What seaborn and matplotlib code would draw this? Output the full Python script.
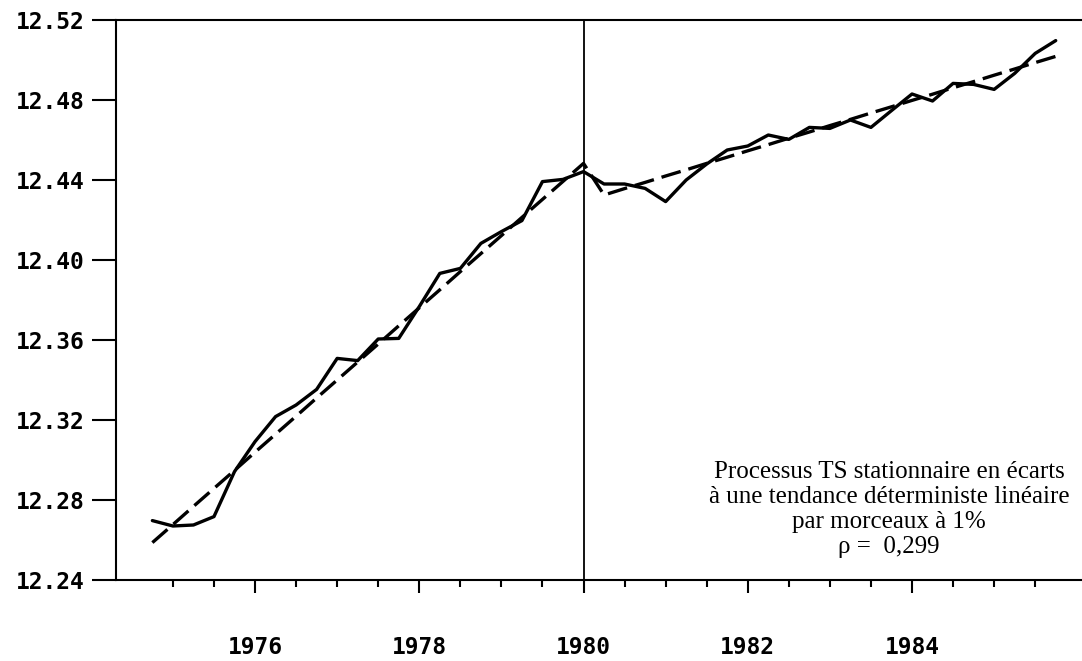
import matplotlib
matplotlib.use("Agg")
import matplotlib.pyplot as plt
import numpy as np
import pandas as pd
import seaborn as sns
from matplotlib.ticker import FixedLocator, FormatStrFormatter

# ---- data (quarterly, 1974Q4 .. 1985Q4) ----
quarters = pd.period_range("1974Q4", "1985Q4", freq="Q")
observed = [12.2697, 12.2670, 12.2675, 12.2717, 12.2942, 12.3092, 12.3217, 12.3275,
            12.3353, 12.3508, 12.3497, 12.3605, 12.3608, 12.3767, 12.3933, 12.3958,
            12.4083, 12.4142, 12.4197, 12.4392, 12.4403, 12.4442,
            12.4380, 12.4380, 12.4358, 12.4292, 12.4400, 12.4480, 12.4550, 12.4570,
            12.4625, 12.4603, 12.4663, 12.4658, 12.4700, 12.4663, 12.4747, 12.4830,
            12.4795, 12.4883, 12.4878, 12.4853, 12.4933, 12.5033, 12.5097]
trend = [12.2587, 12.2677, 12.2768, 12.2858, 12.2948, 12.3039, 12.3129, 12.3219,
         12.3310, 12.3400, 12.3490, 12.3580, 12.3671, 12.3761, 12.3851, 12.3942,
         12.4032, 12.4122, 12.4213, 12.4303, 12.4393, 12.4483,
         12.4325, 12.4357, 12.4388, 12.4420, 12.4451, 12.4483, 12.4514, 12.4546,
         12.4577, 12.4609, 12.4640, 12.4672, 12.4703, 12.4735, 12.4766, 12.4798,
         12.4829, 12.4861, 12.4892, 12.4924, 12.4955, 12.4987, 12.5018]
break_year = 1980
y_ticks = [12.24, 12.28, 12.32, 12.36, 12.40, 12.44, 12.48, 12.52]
x_major = [1976, 1978, 1980, 1982, 1984]
x_minor = [1975, 1975.5, 1976.5, 1977, 1977.5, 1978.5, 1979, 1979.5, 1980.5, 1981,
           1981.5, 1982.5, 1983, 1983.5, 1984.5, 1985, 1985.5]
annotation = "Processus TS stationnaire en écarts\nà une tendance déterministe linéaire\npar morceaux à 1%\nρ =  0,299"

years = np.array([q.year + (q.quarter - 1) / 4.0 for q in quarters])
df = pd.DataFrame({"year": years, "observed": observed, "trend": trend})

sns.set_style("ticks")
plt.rcParams["font.family"] = ["DejaVu Sans Mono", "DejaVu Sans"]

fig = plt.figure(figsize=(10.82, 6.61), dpi=100)
ax = fig.add_axes([116 / 1082, 1 - 580 / 661, (1082 - 116) / 1082, 560 / 661])

sns.lineplot(data=df, x="year", y="observed", ax=ax, color="black", linewidth=2.4)
sns.lineplot(data=df, x="year", y="trend", ax=ax, color="black", linewidth=2.4)
ax.lines[1].set_dashes((6.0, 2.4))
ax.axvline(break_year, color="black", linewidth=1.3)

ax.set_xlim(1974.307, 1986.07)
ax.set_ylim(12.24, 12.52)
ax.set_xlabel("")
ax.set_ylabel("")

ax.yaxis.set_major_locator(FixedLocator(y_ticks))
ax.yaxis.set_major_formatter(FormatStrFormatter("%.2f"))
ax.xaxis.set_major_locator(FixedLocator(x_major))
ax.xaxis.set_minor_locator(FixedLocator(x_minor))
ax.xaxis.set_major_formatter(FormatStrFormatter("%d"))

ax.tick_params(axis="y", which="major", direction="out", length=17, width=1.5,
               pad=5.5, labelsize=16.5, color="black", labelcolor="black")
ax.tick_params(axis="x", which="major", direction="out", length=9.5, width=1.5,
               pad=31, labelsize=16.5, color="black", labelcolor="black")
ax.tick_params(axis="x", which="minor", direction="out", length=5, width=1.5,
               color="black")
for lab in ax.get_xticklabels() + ax.get_yticklabels():
    lab.set_fontweight("bold")

for side in ["left", "bottom", "top"]:
    ax.spines[side].set_linewidth(1.5)
    ax.spines[side].set_color("black")
ax.spines["right"].set_visible(False)

fig.text(889 / 1082, 1 - 509.5 / 661, annotation, ha="center", va="center",
         family="Liberation Serif", fontsize=18, linespacing=1.17, color="black")

fig.savefig("out.png", dpi=100)
